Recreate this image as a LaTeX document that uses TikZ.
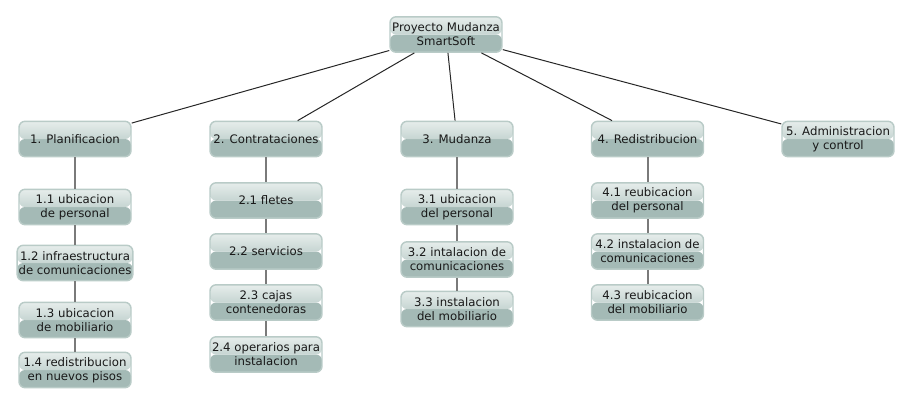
\documentclass[tikz,border=0pt]{standalone}
\usepackage{fontspec}
\setmainfont{DejaVu Sans}
\usepackage{xcolor}

\definecolor{boxhi}{HTML}{E6EDEB}
\definecolor{boxlo}{HTML}{C6D5D2}
\definecolor{boxbot}{HTML}{A4BAB6}
\definecolor{boxedge}{HTML}{B9CBC7}
\definecolor{subgray}{HTML}{7A7A7A}

\begin{document}
\begin{tikzpicture}[x=0.75pt,y=-0.75pt,
    wbs node/.style={rectangle,rounded corners=4.5pt,draw=boxedge,line width=1.1pt,
        minimum width=84pt,minimum height=26.5pt,inner xsep=1pt,inner ysep=0pt,
        align=center,text=black!90,font=\fontsize{8.8pt}{10.5pt}\selectfont,
        path picture={
            \fill[boxbot] (path picture bounding box.west) rectangle (path picture bounding box.south east);
            \shade[top color=boxhi,bottom color=boxlo] (path picture bounding box.north west) rectangle (path picture bounding box.east);
        }},
    root line/.style={draw=black!85,line width=0.75pt},
    sub line/.style={draw=subgray,line width=1.5pt}]
    \useasboundingbox (0,0) rectangle (910,405);

    \node[wbs node] (root) at (446,34.5) {Proyecto Mudanza\\SmartSoft};

    \node[wbs node] (1) at (75,139) {1. Planificacion};
    \node[wbs node] (2) at (266,139) {2. Contrataciones};
    \node[wbs node] (3) at (457,139) {3. Mudanza};
    \node[wbs node] (4) at (647.5,139) {4. Redistribucion};
    \node[wbs node] (5) at (838,139) {5. Administracion\\y control};

    \node[wbs node] (11) at (75,207) {1.1 ubicacion\\de personal};
    \node[wbs node] (12) at (75,263) {1.2 infraestructura\\de comunicaciones};
    \node[wbs node] (13) at (75,320) {1.3 ubicacion\\de mobiliario};
    \node[wbs node] (14) at (75,370) {1.4 redistribucion\\en nuevos pisos};

    \node[wbs node] (21) at (266,200.5) {2.1 fletes};
    \node[wbs node] (22) at (266,251.5) {2.2 servicios};
    \node[wbs node] (23) at (266,302.5) {2.3 cajas\\contenedoras};
    \node[wbs node] (24) at (266,354.5) {2.4 operarios para\\instalacion};

    \node[wbs node] (31) at (457,207) {3.1 ubicacion\\del personal};
    \node[wbs node] (32) at (457,259.5) {3.2 intalacion de\\comunicaciones};
    \node[wbs node] (33) at (457,309) {3.3 instalacion\\del mobiliario};

    \node[wbs node] (41) at (647.5,200.5) {4.1 reubicacion\\del personal};
    \node[wbs node] (42) at (647.5,251.5) {4.2 instalacion de\\comunicaciones};
    \node[wbs node] (43) at (647.5,302.5) {4.3 reubicacion\\del mobiliario};

    \path[root line]
        (root) edge (1)
        (root) edge (2)
        (root) edge (3)
        (root) edge (4)
        (root) edge (5)
        ;
    \draw[sub line] (1) -- (11) -- (12) -- (13) -- (14);
    \draw[sub line] (2) -- (21) -- (22) -- (23) -- (24);
    \draw[sub line] (3) -- (31) -- (32) -- (33);
    \draw[sub line] (4) -- (41) -- (42) -- (43);
\end{tikzpicture}
\end{document}
